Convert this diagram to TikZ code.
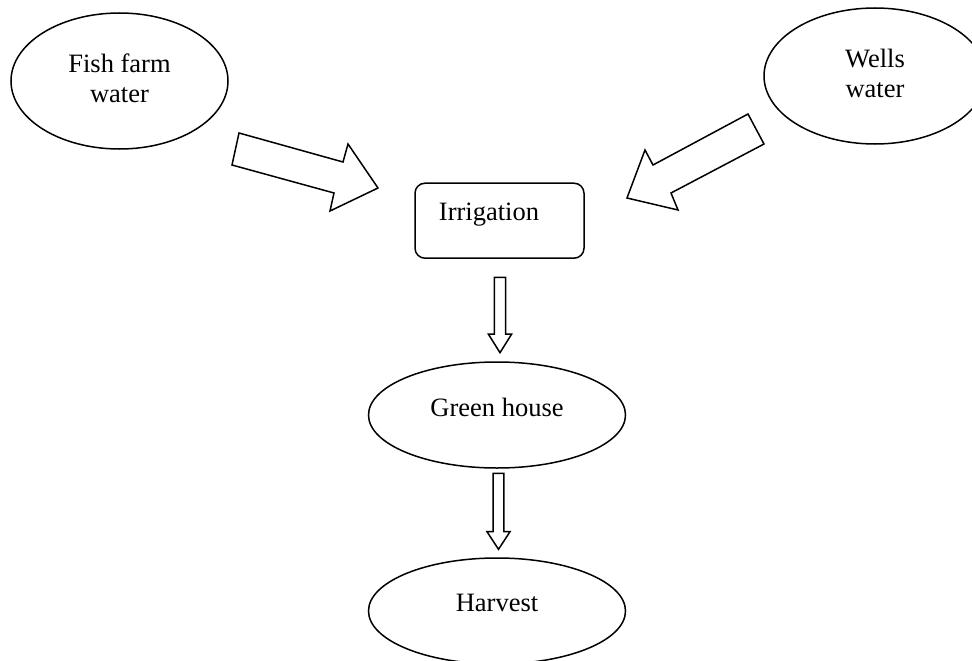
\documentclass[tikz,border=0pt]{standalone}
\usepackage{fontspec}
\setmainfont{Liberation Serif}
\usetikzlibrary{shapes.geometric}
\begin{document}
\begin{tikzpicture}[x=1pt,y=-1pt,
  txt/.style={font=\fontsize{26.5}{30}\selectfont, align=center, inner sep=0pt},
  oval/.style={draw, ellipse, line width=1.5pt, inner sep=0pt},
  box/.style={draw, rounded corners=10pt, line width=1.5pt, inner sep=0pt},
  blockarrow/.style={draw, line width=1.5pt, line join=miter, fill=white}]
\useasboundingbox (0,0) rectangle (972,661);
\clip (0,0) rectangle (972,661);
% nodes
\node[oval, minimum width=217pt, minimum height=136pt,
      label={[txt, yshift=3pt]center:Fish farm\\water}] (fish) at (119.5,81) {};
\node[oval, minimum width=222pt, minimum height=136pt,
      label={[txt, yshift=3pt]center:Wells\\water}] (wells) at (875,76) {};
\node[box, minimum width=169pt, minimum height=75pt,
      label={[txt, xshift=-10.5pt, yshift=5.7pt]center:Irrigation}] (irr) at (499.5,220.7) {};
\node[oval, minimum width=257pt, minimum height=106pt,
      label={[txt, yshift=8pt]center:Green house}] (green) at (497,415) {};
\node[oval, minimum width=257pt, minimum height=106pt,
      label={[txt, yshift=8pt]center:Harvest}] (harvest) at (497,611) {};
% block arrows
\draw[blockarrow] (239,133) -- (343,162) -- (348,144) -- (378,188) -- (330,211) -- (334,193) -- (232,165) -- cycle;
\draw[blockarrow] (748,114) -- (764,144) -- (671,193) -- (678,210) -- (627,198) -- (645,150) -- (653,165) -- cycle;
\draw[blockarrow] (494.3,277.3) -- (505.7,277.3) -- (505.7,334) -- (511.7,334) -- (500,352.7) -- (488.3,334) -- (494.3,334) -- cycle;
\draw[blockarrow] (493.2,473.3) -- (503.8,473.3) -- (503.8,531.7) -- (510,531.7) -- (498.5,549.3) -- (487,531.7) -- (493.2,531.7) -- cycle;
\end{tikzpicture}
\end{document}
